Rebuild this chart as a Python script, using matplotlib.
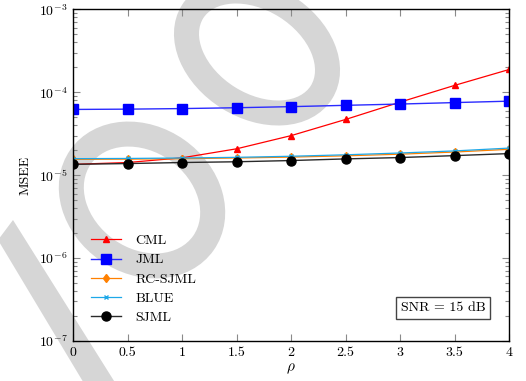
import numpy as np
import matplotlib
matplotlib.use("Agg")
import matplotlib.pyplot as plt
from matplotlib.ticker import FuncFormatter, LogLocator, NullFormatter
from matplotlib.patches import Ellipse, Polygon
from matplotlib.transforms import IdentityTransform

plt.rcParams["font.family"] = "serif"
plt.rcParams["font.serif"] = ["cmr10", "DejaVu Serif"]
plt.rcParams["mathtext.fontset"] = "cm"
plt.rcParams["axes.formatter.use_mathtext"] = True
plt.rcParams["axes.unicode_minus"] = False

# veriler
rho = [0, 0.5, 1, 1.5, 2, 2.5, 3, 3.5, 4]
cml = [1.35e-5, 1.42e-5, 1.62e-5, 2.08e-5, 3.0e-5, 4.7e-5, 7.6e-5, 1.21e-4, 1.88e-4]
jml = [6.2e-5, 6.25e-5, 6.35e-5, 6.5e-5, 6.7e-5, 6.95e-5, 7.2e-5, 7.5e-5, 7.8e-5]
rc_sjml = [1.55e-5, 1.56e-5, 1.58e-5, 1.61e-5, 1.65e-5, 1.71e-5, 1.79e-5, 1.9e-5, 2.05e-5]
blue = [1.58e-5, 1.59e-5, 1.61e-5, 1.64e-5, 1.69e-5, 1.76e-5, 1.85e-5, 1.96e-5, 2.12e-5]
sjml = [1.35e-5, 1.38e-5, 1.42e-5, 1.45e-5, 1.5e-5, 1.57e-5, 1.63e-5, 1.72e-5, 1.82e-5]

fig = plt.figure(figsize=(5.26, 3.81), dpi=100)
ax = fig.add_axes([0.1394, 0.105, 0.8286, 0.8706])
ax.set_facecolor("none")

# arka plandaki gri filigran (piksel koordinatlari, ustten asagi)
H = 381
GRI = "#d6d6d6"
fig.add_artist(Ellipse((257, H - 52), 152, 108, angle=-32, fill=False, edgecolor=GRI,
                       linewidth=18, transform=IdentityTransform(), zorder=-5))
fig.add_artist(Ellipse((142, H - 200), 150, 122, angle=-35, fill=False, edgecolor=GRI,
                       linewidth=18, transform=IdentityTransform(), zorder=-5))
cubuk = [(13, 220), (-2, 240), (94, 400), (126, 400)]
fig.add_artist(Polygon([(x, H - y) for x, y in cubuk], closed=True, facecolor=GRI,
                       edgecolor="none", transform=IdentityTransform(), zorder=-5))

ax.plot(rho, cml, color="red", marker="^", markersize=5, lw=0.9, label="CML")
ax.plot(rho, jml, color="#2b2bff", marker="s", markersize=6.5, markerfacecolor="blue",
        markeredgecolor="blue", lw=1.0, label="JML")
ax.plot(rho, rc_sjml, color="#ff8000", marker="d", markersize=4.5, lw=0.9, label="RC-SJML")
ax.plot(rho, blue, color="#1ea8e8", marker="x", markersize=3.5, mew=1.0, lw=0.9, label="BLUE")
ax.plot(rho, sjml, color="#2a2a2a", marker="o", markersize=6.5, markerfacecolor="black",
        markeredgecolor="black", lw=1.0, label="SJML")

ax.set_yscale("log")
ax.set_ylim(1e-7, 1e-3)
ax.set_xlim(0, 4)
ax.set_xticks(rho)
ax.xaxis.set_major_formatter(FuncFormatter(lambda v, p: "%g" % v))
ax.yaxis.set_major_locator(LogLocator(base=10, numticks=10))
ax.yaxis.set_minor_locator(LogLocator(base=10, subs=np.arange(2, 10), numticks=20))
ax.yaxis.set_minor_formatter(NullFormatter())

ax.tick_params(which="both", direction="in", top=True, right=True, color="#8a8a8a",
               labelsize=10, pad=4)
ax.tick_params(which="major", length=5, width=0.8)
ax.tick_params(which="minor", length=3, width=0.8)
for s in ax.spines.values():
    s.set_linewidth(1.0)

ax.set_xlabel(r"$\rho$", fontsize=11, labelpad=2)
ax.set_ylabel("MSEE", fontsize=10, labelpad=5)

ax.legend(loc="center left", bbox_to_anchor=(0.04, 0.186), frameon=False, fontsize=10,
          handlelength=2.2, handletextpad=1.0, labelspacing=0.47, borderpad=0,
          borderaxespad=0)

ax.text(0.849, 0.0995, "SNR = 15 dB", transform=ax.transAxes, fontsize=10,
        ha="center", va="center",
        bbox=dict(boxstyle="square,pad=0.33", facecolor="white", edgecolor="#444444", lw=1))

fig.savefig("out.png", dpi=100)
